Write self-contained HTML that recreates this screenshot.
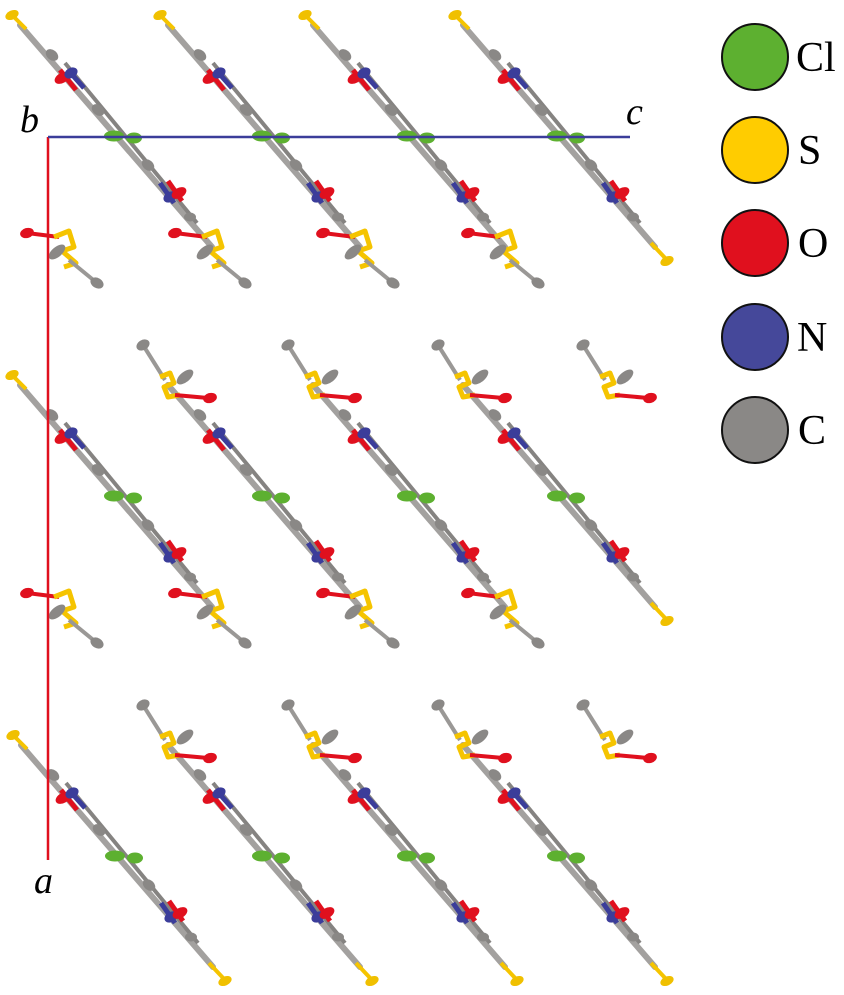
<!DOCTYPE html>
<html><head><meta charset="utf-8"><style>
html,body{margin:0;padding:0;background:#fff;}
svg{display:block}
text{font-family:"Liberation Serif",serif;fill:#000}
</style></head><body>
<svg width="844" height="995" viewBox="0 0 844 995" xmlns="http://www.w3.org/2000/svg">
<defs>
<g id="chain">
  <line x1="8" y1="10" x2="200" y2="232" stroke="#a3a19f" stroke-width="6" stroke-linecap="round"/>
  <line x1="48" y1="52" x2="180" y2="212" stroke="#858381" stroke-width="4" transform="translate(5,-4)"/>
  <ellipse cx="40" cy="40" rx="7" ry="5" fill="#8a8886" transform="rotate(40 40 40)"/>
  <line x1="48" y1="55" x2="64" y2="75" stroke="#e0101e" stroke-width="5"/>
  <line x1="56" y1="55" x2="72" y2="73" stroke="#3b3d9a" stroke-width="5"/>
  <ellipse cx="50" cy="63" rx="8" ry="5" fill="#e0101e" transform="rotate(-30 50 63)"/>
  <ellipse cx="59" cy="58" rx="7" ry="5" fill="#3b3d9a" transform="rotate(-30 59 58)"/>
  <ellipse cx="86" cy="95" rx="7" ry="5" fill="#8a8886" transform="rotate(40 86 95)"/>
  <ellipse cx="102" cy="121" rx="10" ry="5.5" fill="#5db030"/>
  <ellipse cx="122" cy="123" rx="8" ry="5.5" fill="#5db030"/>
  <ellipse cx="136" cy="150" rx="7" ry="5" fill="#8a8886" transform="rotate(40 136 150)"/>
  <line x1="148" y1="168" x2="162" y2="188" stroke="#3b3d9a" stroke-width="5"/>
  <line x1="156" y1="166" x2="170" y2="186" stroke="#e0101e" stroke-width="5"/>
  <ellipse cx="158" cy="182" rx="7" ry="5" fill="#3b3d9a" transform="rotate(-30 158 182)"/>
  <ellipse cx="167" cy="178" rx="8" ry="5" fill="#e0101e" transform="rotate(-30 167 178)"/>
  <ellipse cx="178" cy="202" rx="6" ry="4.5" fill="#8a8886"/>
</g>
<g id="stop">
  <line x1="0" y1="0" x2="14" y2="14" stroke="#f5c400" stroke-width="4"/>
  <ellipse cx="0" cy="0" rx="7" ry="4.5" fill="#f0c000" transform="rotate(-25 0 0)"/>
</g>
<g id="sbot">
  <line x1="196" y1="228" x2="212" y2="245" stroke="#f5c400" stroke-width="4"/>
  <ellipse cx="212" cy="246" rx="7" ry="4.5" fill="#f0c000" transform="rotate(-25 212 246)"/>
</g>
<g id="fbot">
  <line x1="163" y1="218" x2="195" y2="222" stroke="#e0101e" stroke-width="4"/>
  <ellipse cx="163" cy="218" rx="7" ry="5" fill="#e0101e" transform="rotate(-15 163 218)"/>
  <path d="M190 222 L205 216 L210 232 L198 236 L212 248 L200 252" fill="none" stroke="#f5c400" stroke-width="5" stroke-linejoin="round"/>
  <ellipse cx="193" cy="237" rx="10" ry="5" fill="#8a8886" transform="rotate(-40 193 237)"/>
  <line x1="205" y1="245" x2="233" y2="268" stroke="#9a9896" stroke-width="4"/>
  <ellipse cx="233" cy="268" rx="7" ry="5" fill="#8a8886" transform="rotate(30 233 268)"/>
</g>
<g id="ftop">
  <line x1="-17" y1="-30" x2="5" y2="5" stroke="#9a9896" stroke-width="4"/>
  <ellipse cx="-17" cy="-30" rx="7" ry="5" fill="#8a8886" transform="rotate(-30 -17 -30)"/>
  <path d="M0 2 L10 -2 L14 8 L4 12 L8 22 L20 20" fill="none" stroke="#f5c400" stroke-width="5" stroke-linejoin="round"/>
  <line x1="15" y1="20" x2="48" y2="23" stroke="#e0101e" stroke-width="4"/>
  <ellipse cx="50" cy="23" rx="7" ry="5" fill="#e0101e" transform="rotate(-15 50 23)"/>
  <ellipse cx="25" cy="2" rx="10" ry="5" fill="#8a8886" transform="rotate(-40 25 2)"/>
</g>
</defs>

<!-- Row 1 -->
<g transform="translate(12,15)"><use href="#chain"/><use href="#stop"/><use href="#fbot"/></g>
<g transform="translate(160,15)"><use href="#chain"/><use href="#stop"/><use href="#fbot"/></g>
<g transform="translate(305,15)"><use href="#chain"/><use href="#stop"/><use href="#fbot"/></g>
<g transform="translate(455,15)"><use href="#chain"/><use href="#stop"/><use href="#sbot"/></g>
<g transform="translate(-136,15)"><use href="#fbot"/></g>

<!-- Row 2 -->
<g transform="translate(12,375)"><use href="#chain"/><use href="#stop"/><use href="#fbot"/></g>
<g transform="translate(160,375)"><use href="#chain"/><use href="#ftop"/><use href="#fbot"/></g>
<g transform="translate(305,375)"><use href="#chain"/><use href="#ftop"/><use href="#fbot"/></g>
<g transform="translate(455,375)"><use href="#chain"/><use href="#ftop"/><use href="#sbot"/></g>
<g transform="translate(-136,375)"><use href="#fbot"/></g>
<g transform="translate(600,375)"><use href="#ftop"/></g>

<!-- Row 3 -->
<g transform="translate(13,735)"><use href="#chain"/><use href="#stop"/><use href="#sbot"/></g>
<g transform="translate(160,735)"><use href="#chain"/><use href="#ftop"/><use href="#sbot"/></g>
<g transform="translate(305,735)"><use href="#chain"/><use href="#ftop"/><use href="#sbot"/></g>
<g transform="translate(455,735)"><use href="#chain"/><use href="#ftop"/><use href="#sbot"/></g>
<g transform="translate(600,735)"><use href="#ftop"/></g>

<!-- axes -->
<line x1="48" y1="137" x2="48" y2="860" stroke="#e0101e" stroke-width="2.5"/>
<line x1="48" y1="137" x2="630" y2="137" stroke="#3b3d9a" stroke-width="2.5"/>
<text x="20" y="132" font-size="38" font-style="italic">b</text>
<text x="626" y="124" font-size="38" font-style="italic">c</text>
<text x="34" y="893" font-size="38" font-style="italic">a</text>

<!-- legend -->
<circle cx="755" cy="57" r="33" fill="#5db030" stroke="#111" stroke-width="2"/>
<circle cx="755" cy="150" r="33" fill="#ffcc00" stroke="#111" stroke-width="2"/>
<circle cx="755" cy="243" r="33" fill="#e0101e" stroke="#111" stroke-width="2"/>
<circle cx="755" cy="337" r="33" fill="#45489a" stroke="#111" stroke-width="2"/>
<circle cx="755" cy="430" r="33" fill="#8a8886" stroke="#111" stroke-width="2"/>
<text x="796" y="71" font-size="42">Cl</text>
<text x="798" y="164" font-size="42">S</text>
<text x="798" y="257" font-size="42">O</text>
<text x="797" y="351" font-size="42">N</text>
<text x="798" y="444" font-size="42">C</text>
</svg>
</body></html>
